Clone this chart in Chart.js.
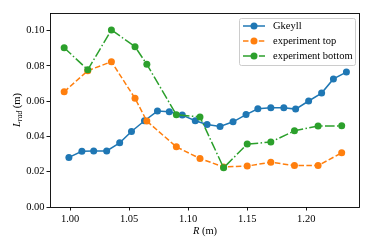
<!DOCTYPE html>
<html>
<head>
<meta charset="utf-8">
<script src="https://cdn.jsdelivr.net/npm/chart.js@4/dist/chart.umd.min.js"></script>
<style>
  html, body { margin: 0; padding: 0; background: #fff; }
  #wrap { width: 374px; height: 249px; }
</style>
</head>
<body>
<div id="wrap"><canvas id="lrad-chart" width="374" height="249"></canvas></div>
<script>
// values
const gkeyllR = [0.999, 1.010, 1.020, 1.031, 1.042, 1.052, 1.063, 1.074, 1.084, 1.095, 1.106, 1.116,
                 1.127, 1.138, 1.149, 1.159, 1.170, 1.181, 1.191, 1.202, 1.213, 1.223, 1.234];
const gkeyllL = [0.0281, 0.0316, 0.0318, 0.0318, 0.0364, 0.0428, 0.0489, 0.0544, 0.0540, 0.0521, 0.0489, 0.0468,
                 0.0457, 0.0483, 0.0524, 0.0557, 0.0563, 0.0563, 0.0555, 0.0601, 0.0646, 0.0726, 0.0765];
const expR = [0.995, 1.015, 1.035, 1.055, 1.065, 1.090, 1.110, 1.130, 1.150, 1.170, 1.190, 1.210, 1.230];
const topL = [0.0653, 0.0773, 0.0824, 0.0616, 0.0487, 0.0341, 0.0275, 0.0227, 0.0232, 0.0254, 0.0235, 0.0235, 0.0307];
const bottomL = [0.0903, 0.0778, 0.1004, 0.0909, 0.0809, 0.0523, 0.0511, 0.0222, 0.0357, 0.0368, 0.0432, 0.0459, 0.0460];
const xTicks = [1.00, 1.05, 1.10, 1.15, 1.20];
const yTicks = [0.00, 0.02, 0.04, 0.06, 0.08, 0.10];
const seriesNames = ["Gkeyll", "experiment top", "experiment bottom"];
const colors = ["#1f77b4", "#ff7f0e", "#2ca02c"];
const dashes = [[], [5.5, 2.4], [9.6, 2.4, 1.5, 2.4]];

const serif = "'Liberation Serif', 'Times New Roman', serif";
const fs = 10.5;

function toPoints(xs, ys) {
    return xs.map((x, i) => ({ x: x, y: ys[i] }));
}

function makeSet(idx, pts, order) {
    return {
        label: seriesNames[idx],
        data: pts,
        borderColor: colors[idx],
        backgroundColor: colors[idx],
        pointBackgroundColor: colors[idx],
        pointBorderColor: colors[idx],
        borderWidth: 1.5,
        borderDash: dashes[idx],
        pointRadius: 3.5,
        pointBorderWidth: 0,
        pointHoverRadius: 3.5,
        showLine: true,
        fill: false,
        tension: 0,
        order: order,
    };
}

// box round the plot, the axis titles and the legend
const extras = {
    id: "extras",
    afterDraw(chart) {
        const c = chart.ctx;
        const a = chart.chartArea;
        c.save();
        c.strokeStyle = "#000";
        c.lineWidth = 0.9;
        c.setLineDash([]);
        c.strokeRect(Math.round(a.left) + 0.5, Math.round(a.top) + 0.5,
                     Math.round(a.right - a.left) - 1, Math.round(a.bottom - a.top));

        // x title
        c.fillStyle = "#000";
        c.textBaseline = "alphabetic";
        c.font = "italic " + fs + "px " + serif;
        const wR = c.measureText("R").width;
        c.font = fs + "px " + serif;
        const wM = c.measureText(" (m)").width;
        let x0 = (a.left + a.right) / 2 - (wR + wM) / 2;
        c.font = "italic " + fs + "px " + serif;
        c.fillText("R", x0, 234);
        c.font = fs + "px " + serif;
        c.fillText(" (m)", x0 + wR, 234);

        // y title
        c.save();
        c.translate(20, (a.top + a.bottom) / 2);
        c.rotate(-Math.PI / 2);
        c.font = "italic " + fs + "px " + serif;
        const wL = c.measureText("L").width;
        c.font = "italic 7.5px " + serif;
        const wS = c.measureText("rad").width;
        c.font = fs + "px " + serif;
        const wU = c.measureText(" (m)").width;
        let s = -(wL + wS + wU) / 2;
        c.font = "italic " + fs + "px " + serif;
        c.fillText("L", s, 0);
        c.font = "italic 7.5px " + serif;
        c.fillText("rad", s + wL, 2);
        c.font = fs + "px " + serif;
        c.fillText(" (m)", s + wL + wS, 0);
        c.restore();

        // legend
        const bx = 239.5, by = 18.5, bw = 116, bh = 47;
        c.beginPath();
        c.roundRect(bx, by, bw, bh, 2);
        c.fillStyle = "rgba(255,255,255,0.8)";
        c.fill();
        c.strokeStyle = "#cccccc";
        c.lineWidth = 1;
        c.stroke();
        c.font = fs + "px " + serif;
        c.textBaseline = "middle";
        for (let i = 0; i < seriesNames.length; i++) {
            const ry = 26 + i * 15;
            c.strokeStyle = colors[i];
            c.lineWidth = 1.5;
            c.setLineDash(dashes[i]);
            c.beginPath();
            c.moveTo(243, ry);
            c.lineTo(265, ry);
            c.stroke();
            c.setLineDash([]);
            c.fillStyle = colors[i];
            c.beginPath();
            c.arc(254, ry, 3.5, 0, Math.PI * 2);
            c.fill();
            c.fillStyle = "#000";
            c.fillText(seriesNames[i], 273, ry + 0.5);
        }
        c.restore();
    }
};

const ctx = document.getElementById("lrad-chart").getContext("2d");

var chart = new Chart(ctx, {
    type: "scatter",
    data: {
        datasets: [
            makeSet(0, toPoints(gkeyllR, gkeyllL), 3),
            makeSet(1, toPoints(expR, topL), 2),
            makeSet(2, toPoints(expR, bottomL), 1),
        ],
    },
    options: {
        responsive: false,
        animation: false,
        events: [],
        layout: { padding: { top: 13, right: 14, left: 0, bottom: 0 } },
        plugins: {
            legend: { display: false },
            tooltip: { enabled: false },
        },
        scales: {
            x: {
                type: "linear",
                min: 0.983,
                max: 1.2455,
                afterBuildTicks(scale) { scale.ticks = xTicks.map(v => ({ value: v })); },
                afterFit(scale) { scale.height = 42; },
                grid: { drawOnChartArea: false, drawTicks: true, tickLength: 3.5, color: "#000", lineWidth: 0.9 },
                border: { display: false },
                ticks: {
                    color: "#000",
                    padding: 2,
                    maxRotation: 0,
                    font: { family: serif, size: fs },
                    callback: v => v.toFixed(2),
                },
            },
            y: {
                type: "linear",
                min: 0,
                max: 0.11,
                afterBuildTicks(scale) { scale.ticks = yTicks.map(v => ({ value: v })); },
                afterFit(scale) { scale.width = 50; },
                grid: { drawOnChartArea: false, drawTicks: true, tickLength: 3.5, color: "#000", lineWidth: 0.9 },
                border: { display: false },
                ticks: {
                    color: "#000",
                    padding: 2,
                    font: { family: serif, size: fs },
                    callback: v => v.toFixed(2),
                },
            },
        },
    },
    plugins: [extras],
});
</script>
</body>
</html>
